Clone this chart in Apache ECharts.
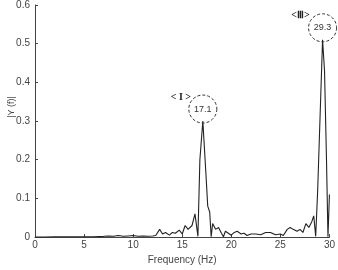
<!DOCTYPE html>
<html>
<head>
<meta charset="utf-8">
<script src="https://cdn.jsdelivr.net/npm/echarts@6/dist/echarts.min.js"></script>
<style>
  html, body { margin: 0; padding: 0; background: #fff; }
  #chart { width: 338px; height: 270px; }
</style>
</head>
<body>
<div id="chart"></div>
<script>
// spectrum
const freq = [0, 1, 2, 3, 4, 4.8, 5, 5.2, 6, 7, 7.5, 8, 8.5, 9, 9.5, 10, 10.5, 11, 11.5, 12, 12.3,
  12.7, 13.0, 13.3, 13.7, 14.0, 14.3, 14.7, 15.0, 15.3, 15.6, 16.0, 16.3, 16.6, 16.8, 17.1, 17.4,
  17.6, 17.8, 17.95, 18.1, 18.4, 18.7, 19.0, 19.2, 19.4, 19.7, 20.0, 20.3, 20.6, 21.0, 21.3, 21.6,
  22.0, 22.5, 23.0, 23.5, 24.0, 24.5, 25.0, 25.3, 25.7, 26.0, 26.3, 26.7, 27.0, 27.3, 27.6, 27.9,
  28.2, 28.4, 28.6, 28.8, 29.0, 29.3, 29.5, 29.7, 29.85, 30.0];
const amp = [0, 0, 0.001, 0.001, 0.001, 0.001, 0.004, 0.001, 0.001, 0.002, 0.003, 0.002, 0.004, 0.002, 0.003, 0.004, 0.002, 0.003, 0.002, 0.003, 0.004,
  0.02, 0.008, 0.012, 0.005, 0.012, 0.01, 0.018, 0.008, 0.03, 0.02, 0.03, 0.06, 0.002, 0.2, 0.30, 0.17,
  0.08, 0.065, 0.001, 0.035, 0.02, 0.025, 0.01, 0.001, 0.015, 0.01, 0.005, 0.012, 0.015, 0.008, 0.01, 0.004,
  0.008, 0.008, 0.006, 0.012, 0.012, 0.006, 0.008, 0.004, 0.02, 0.025, 0.02, 0.015, 0.02, 0.012, 0.035, 0.025,
  0.04, 0.055, 0.002, 0.12, 0.12, 0.51, 0.43, 0.2, 0.001, 0.11];
const xTicks = [0, 5, 10, 15, 20, 25, 30];
const yTicks = [0, 0.1, 0.2, 0.3, 0.4, 0.5, 0.6];
const peaks = [
  { f: 17.1, a: 0.30, label: '17.1', tag: '< I >' },
  { f: 29.3, a: 0.51, label: '29.3', tag: '<Ⅲ>' }
];

const chart = echarts.init(document.getElementById('chart'));

const marks = [];
peaks.forEach(p => {
  marks.push({
    coord: [p.f, p.a],
    symbol: 'circle',
    symbolSize: 28,
    symbolOffset: [0, -12],
    itemStyle: { color: 'rgba(255,255,255,0)', borderColor: '#333', borderWidth: 1, borderType: [3, 2] },
    label: { show: true, position: 'inside', formatter: p.label, color: '#333', fontSize: 9, fontFamily: 'Liberation Sans' }
  });
  marks.push({
    coord: [p.f, p.a],
    symbol: 'circle',
    symbolSize: 0,
    label: { show: true, formatter: p.tag, color: '#222', fontSize: 10, fontWeight: 'bold', fontFamily: 'Liberation Serif', offset: [-22, -24] }
  });
});

chart.setOption({
  animation: false,
  backgroundColor: '#fff',
  grid: { left: 35, right: 7, top: 5, bottom: 30 },
  xAxis: {
    type: 'value',
    min: 0, max: 30, interval: 5,
    name: 'Frequency (Hz)',
    nameLocation: 'middle',
    nameGap: 14,
    nameTextStyle: { color: '#444', fontSize: 10, fontFamily: 'Liberation Sans' },
    axisLine: { lineStyle: { color: '#444', width: 1 } },
    axisTick: { inside: true, length: 3, lineStyle: { color: '#444' } },
    axisLabel: { color: '#444', fontSize: 10, fontFamily: 'Liberation Sans', margin: 3,
      formatter: v => xTicks.includes(v) ? String(v) : '' },
    splitLine: { show: false }
  },
  yAxis: {
    type: 'value',
    min: 0, max: 0.6, interval: 0.1,
    axisLine: { show: true, lineStyle: { color: '#444', width: 1 } },
    axisTick: { show: true, inside: true, length: 3, lineStyle: { color: '#444' } },
    axisLabel: { color: '#444', fontSize: 10, fontFamily: 'Liberation Sans', margin: 5,
      formatter: v => { const t = yTicks.find(y => Math.abs(y - v) < 1e-9); return t === undefined ? '' : (t === 0 ? '0' : t.toFixed(1)); } },
    splitLine: { show: false }
  },
  graphic: [{
    type: 'text',
    x: 12, y: 107,
    rotation: Math.PI / 2,
    style: { text: '|Y (f)|', fill: '#444', font: '9px "Liberation Sans"', textAlign: 'center', textVerticalAlign: 'middle' }
  }],
  series: [{
    type: 'line',
    data: freq.map((f, i) => [f, amp[i]]),
    symbol: 'none',
    lineStyle: { color: '#222', width: 1.1 },
    markPoint: { silent: true, data: marks }
  }]
});
</script>
</body>
</html>
